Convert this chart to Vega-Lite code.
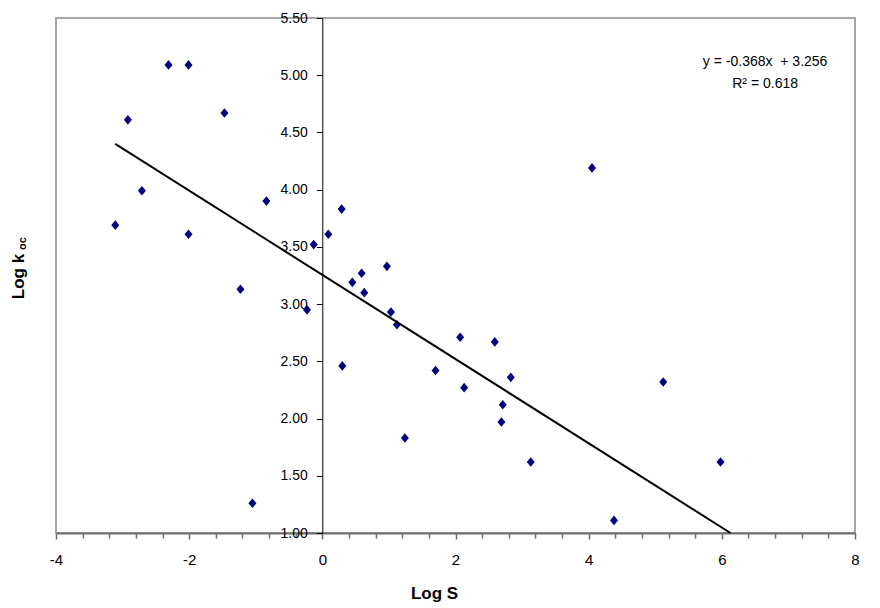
{
  "$schema": "https://vega.github.io/schema/vega-lite/v6.json",
  "width": 799,
  "height": 515,
  "autosize": "none",
  "padding": {"left": 56, "top": 18, "right": 25, "bottom": 75},
  "background": "white",
  "config": {
    "view": {"stroke": "#a6a6a6", "strokeWidth": 2},
    "font": "Liberation Sans",
    "axis": {"labelOverlap": false, "labelFlush": false, "labelBound": false}
  },
  "datasets": {
    "pts": [
      {"logS": -3.11, "logKoc": 3.69}, {"logS": -2.92, "logKoc": 4.61}, {"logS": -2.71, "logKoc": 3.99},
      {"logS": -2.31, "logKoc": 5.09}, {"logS": -2.01, "logKoc": 5.09}, {"logS": -2.01, "logKoc": 3.61},
      {"logS": -1.47, "logKoc": 4.67}, {"logS": -1.23, "logKoc": 3.13}, {"logS": -1.05, "logKoc": 1.26},
      {"logS": -0.84, "logKoc": 3.90}, {"logS": -0.23, "logKoc": 2.95}, {"logS": -0.13, "logKoc": 3.52},
      {"logS": 0.09, "logKoc": 3.61}, {"logS": 0.29, "logKoc": 3.83}, {"logS": 0.30, "logKoc": 2.46},
      {"logS": 0.45, "logKoc": 3.19}, {"logS": 0.59, "logKoc": 3.27}, {"logS": 0.63, "logKoc": 3.10},
      {"logS": 0.97, "logKoc": 3.33}, {"logS": 1.03, "logKoc": 2.93}, {"logS": 1.12, "logKoc": 2.82},
      {"logS": 1.24, "logKoc": 1.83}, {"logS": 1.70, "logKoc": 2.42}, {"logS": 2.07, "logKoc": 2.71},
      {"logS": 2.13, "logKoc": 2.27}, {"logS": 2.59, "logKoc": 2.67}, {"logS": 2.71, "logKoc": 2.12},
      {"logS": 2.69, "logKoc": 1.97}, {"logS": 2.83, "logKoc": 2.36}, {"logS": 3.13, "logKoc": 1.62},
      {"logS": 4.05, "logKoc": 4.19}, {"logS": 4.38, "logKoc": 1.11}, {"logS": 5.12, "logKoc": 2.32},
      {"logS": 5.98, "logKoc": 1.62}
    ],
    "trend": [
      {"logS": -3.11, "logKoc": 4.40},
      {"logS": 6.13, "logKoc": 1.0}
    ],
    "eq": [
      {"logS": 6.65, "logKoc": 5.115, "label": "y = -0.368x\u00a0 + 3.256"},
      {"logS": 6.65, "logKoc": 4.92, "label": "R² = 0.618"}
    ]
  },
  "layer": [
    {
      "data": {"name": "pts"},
      "mark": {"type": "point", "shape": "M0,-1.2L1,0L0,1.2L-1,0Z", "filled": true, "color": "#000080", "opacity": 1, "size": 64},
      "encoding": {
        "x": {
          "field": "logS", "type": "quantitative",
          "scale": {"domain": [-4, 8], "nice": false, "zero": false},
          "axis": {
            "orient": "bottom",
            "values": [-4, -2, 0, 2, 4, 6, 8],
            "labelExpr": "'' + datum.value",
            "labelFont": "Liberation Sans", "labelFontSize": 15, "labelColor": "#000000",
            "labelPadding": 13, "labelFlush": false, "labelOverlap": false, "labelBound": false,
            "tickSize": 6, "tickColor": "#6e6e6e", "tickWidth": 1.5,
            "domainColor": "#6e6e6e", "domainWidth": 2,
            "grid": false,
            "title": "Log S", "titleFont": "Liberation Sans", "titleFontSize": 17, "titleFontWeight": "bold", "titleColor": "#000000",
            "titleX": 378, "titleY": 60, "titleAlign": "center", "titleBaseline": "middle"
          }
        },
        "y": {
          "field": "logKoc", "type": "quantitative",
          "scale": {"domain": [1, 5.5], "nice": false, "zero": false},
          "axis": {
            "orient": "left", "offset": -266.3,
            "values": [1, 1.5, 2, 2.5, 3, 3.5, 4, 4.5, 5, 5.5],
            "format": ".2f",
            "labelFont": "Liberation Sans", "labelFontSize": 14, "labelColor": "#000000",
            "labelPadding": 9, "labelFlush": false, "labelOverlap": false, "labelBound": false,
            "tickSize": 6, "tickColor": "#000000", "tickWidth": 1,
            "domainColor": "#000000", "domainWidth": 1,
            "grid": false,
            "title": "Log k", "titleFont": "Liberation Sans", "titleFontSize": 17, "titleFontWeight": "bold", "titleColor": "#000000",
            "titleX": -304.3, "titleY": 258, "titleAngle": 270, "titleAlign": "center", "titleBaseline": "middle"
          }
        }
      }
    },
    {
      "data": {"name": "trend"},
      "mark": {"type": "line", "color": "#000000", "strokeWidth": 2},
      "encoding": {
        "x": {
          "field": "logS", "type": "quantitative",
          "scale": {"domain": [-4, 8], "nice": false, "zero": false},
          "axis": {
            "orient": "bottom",
            "values": [-3.6, -3.2, -2.8, -2.4, -1.6, -1.2, -0.8, -0.4, 0.4, 0.8, 1.2, 1.6, 2.4, 2.8, 3.2, 3.6, 4.4, 4.8, 5.2, 5.6, 6.4, 6.8, 7.2, 7.6],
            "labels": false, "domain": false, "grid": false,
            "tickSize": 5, "tickColor": "#6e6e6e", "tickWidth": 1.5,
            "title": null
          }
        },
        "y": {
          "field": "logKoc", "type": "quantitative",
          "scale": {"domain": [1, 5.5], "nice": false, "zero": false},
          "axis": {
            "orient": "left", "offset": -266.3,
            "labels": false, "ticks": false, "domain": false, "grid": false,
            "title": "oc", "titleFont": "Liberation Sans", "titleFontSize": 11, "titleFontWeight": "bold", "titleColor": "#000000",
            "titleX": -300.3, "titleY": 225, "titleAngle": 270, "titleAlign": "center", "titleBaseline": "middle"
          }
        }
      }
    },
    {
      "data": {"name": "eq"},
      "mark": {"type": "text", "font": "Liberation Sans", "fontSize": 14, "align": "center", "baseline": "middle", "color": "#000000"},
      "encoding": {
        "x": {"field": "logS", "type": "quantitative", "scale": {"domain": [-4, 8], "nice": false, "zero": false}, "axis": null},
        "y": {"field": "logKoc", "type": "quantitative", "scale": {"domain": [1, 5.5], "nice": false, "zero": false}, "axis": null},
        "text": {"field": "label", "type": "nominal"}
      }
    }
  ],
  "resolve": {"axis": {"x": "independent", "y": "independent"}}
}
